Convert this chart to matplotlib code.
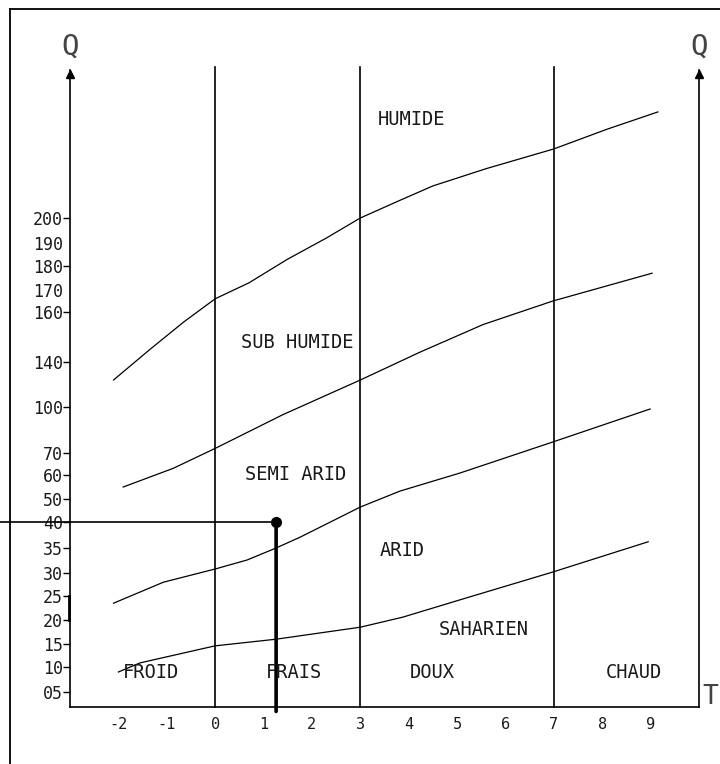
import numpy as np
import matplotlib
matplotlib.use('Agg')
import matplotlib.pyplot as plt
from matplotlib.lines import Line2D

# Calibration of the (non-linear) Q axis as drawn: Q value -> height on the sheet
Q_CAL = [2, 5, 10, 15, 20, 25, 30, 35, 40, 50, 60, 70, 100, 140, 160, 170, 180, 190, 200, 260]
H_CAL = [0, 15, 40, 63, 87, 111, 134, 159, 185, 208, 232, 254, 300, 345, 395, 417, 441, 464, 489, 637]

# Axis ticks
t_ticks = [-2, -1, 0, 1, 2, 3, 4, 5, 6, 7, 8, 9]
q_ticks = [5, 10, 15, 20, 25, 30, 35, 40, 50, 60, 70, 100, 140, 160, 170, 180, 190, 200]
q_tick_labels = ['05', '10', '15', '20', '25', '30', '35', '40', '50', '60', '70',
                 '100', '140', '160', '170', '180', '190', '200']
q_no_tickmark = [170, 190]

# Bioclimatic boundary curves (T = m, Q = quotient)
t_humide = [-2.1, -1.35, -0.65, 0, 0.7, 1.5, 2.3, 3.0, 3.8, 4.5, 5.6, 7.0, 8.1, 9.15]
q_humide = [124, 145, 156, 166, 173, 183, 192, 200, 207, 213, 220, 228, 236, 243]

t_subhumide = [-1.9, -0.87, 0, 1.4, 3.0, 4.24, 5.54, 6.98, 9.03]
q_subhumide = [55, 63, 73, 95, 124, 144, 155, 165, 177]

t_semiarid = [-2.1, -1.07, 0, 0.66, 1.26, 1.76, 3.0, 3.82, 5.06, 6.98, 8.99]
q_semiarid = [23.5, 28, 30.8, 32.6, 35, 37.1, 46.5, 53.3, 60.9, 77.2, 98.7]

t_arid = [-2.0, -1.55, 0, 1.26, 3.0, 3.88, 5.06, 6.98, 8.95]
q_arid = [9, 10.9, 14.6, 16, 18.5, 20.6, 24.2, 30.2, 36.2]

# Thermal zone limits
t_limits = [0, 3, 7]

# Station
t_station = 1.26
q_station = 40

# Zone labels
zone_names = ['HUMIDE', 'SUB HUMIDE', 'SEMI ARID', 'ARID', 'SAHARIEN']
zone_t = [4.05, 1.69, 1.67, 3.86, 5.56]
zone_q = [240, 147.6, 60, 34.4, 18.1]

temp_names = ['FROID', 'FRAIS', 'DOUX', 'CHAUD']
temp_t = [-1.32, 1.63, 4.48, 8.66]
temp_q = 8.8

FONT = 'DejaVu Sans Mono'
TXT_COLOR = '#1a1a1a'


def q_fwd(q):
    return np.interp(q, Q_CAL, H_CAL)


def q_inv(h):
    return np.interp(h, H_CAL, Q_CAL)


fig = plt.figure(figsize=(7.2, 7.64), dpi=100)
ax = fig.add_axes([70 / 720, 57 / 764, 629 / 720, 637 / 764])
ax.set_yscale('function', functions=(q_fwd, q_inv))
ax.set_xlim(-3, 10)
ax.set_ylim(Q_CAL[0], Q_CAL[-1])

# Spines
for side in ['left', 'right', 'bottom']:
    ax.spines[side].set_linewidth(1.2)
ax.spines['top'].set_visible(False)

# Ticks
ax.set_xticks(t_ticks)
ax.set_xticklabels([str(t) for t in t_ticks], fontfamily=FONT, fontsize=11,
                   color=TXT_COLOR)
ax.set_yticks(q_ticks)
ax.set_yticklabels(q_tick_labels, fontfamily=FONT, fontsize=12, color=TXT_COLOR)
ax.yaxis.set_minor_locator(matplotlib.ticker.NullLocator())
ax.tick_params(axis='x', length=0, pad=7)
ax.tick_params(axis='y', direction='out', length=5, width=1, pad=0)
for q, tick in zip(q_ticks, ax.yaxis.get_major_ticks()):
    if q in q_no_tickmark:
        tick.tick1line.set_visible(False)

# Arrows on both Q axes
xax = ax.get_xaxis_transform()
for t in [-3, 10]:
    ax.plot(t, 0.994, marker='^', color='black', markersize=6,
            transform=xax, clip_on=False)
    ax.text(t, 1.036, 'Q', transform=xax, ha='center', va='center',
            fontfamily=FONT, fontsize=21, color='#444444')
ax.text(10.07, 0.015, 'T', transform=xax, ha='left', va='center',
        fontfamily=FONT, fontsize=19, color='#444444')

# Zone limits
for t in t_limits:
    ax.axvline(t, ymin=0, ymax=1.005, color='black', lw=1.2, clip_on=False)

# Boundary curves
for tt, qq in [(t_humide, q_humide), (t_subhumide, q_subhumide),
               (t_semiarid, q_semiarid), (t_arid, q_arid)]:
    ax.plot(tt, qq, color='black', lw=0.9)

# Station
ax.annotate('', xy=(t_station, q_station), xytext=(0, q_station),
            xycoords='data', textcoords=('figure fraction', 'data'),
            arrowprops=dict(arrowstyle='-', lw=1.2, color='black',
                            shrinkA=0, shrinkB=0))
ax.annotate('', xy=(t_station, q_station), xytext=(t_station, -0.007),
            xycoords='data', textcoords=('data', 'axes fraction'),
            arrowprops=dict(arrowstyle='-', lw=2.6, color='black',
                            shrinkA=0, shrinkB=0))
ax.plot(t_station, q_station, 'o', color='black', markersize=7, zorder=5)

# Short heavy segment on the Q axis
ax.plot([-3.03, -3.03], [20, 25], color='black', lw=2, clip_on=False)

# Labels
for name, t, q in zip(zone_names, zone_t, zone_q):
    ax.text(t, q, name, ha='center', va='center', fontfamily=FONT,
            fontsize=13.5, color=TXT_COLOR)
for name, t in zip(temp_names, temp_t):
    ax.text(t, temp_q, name, ha='center', va='center', fontfamily=FONT,
            fontsize=13.5, color=TXT_COLOR)

# Sheet border (top and left visible)
fig.add_artist(Line2D([10 / 720, 10 / 720], [0, 1 - 9 / 764], color='black', lw=1.3))
fig.add_artist(Line2D([10 / 720, 1], [1 - 9 / 764, 1 - 9 / 764], color='black', lw=1.3))

fig.savefig('out.png', dpi=100)
